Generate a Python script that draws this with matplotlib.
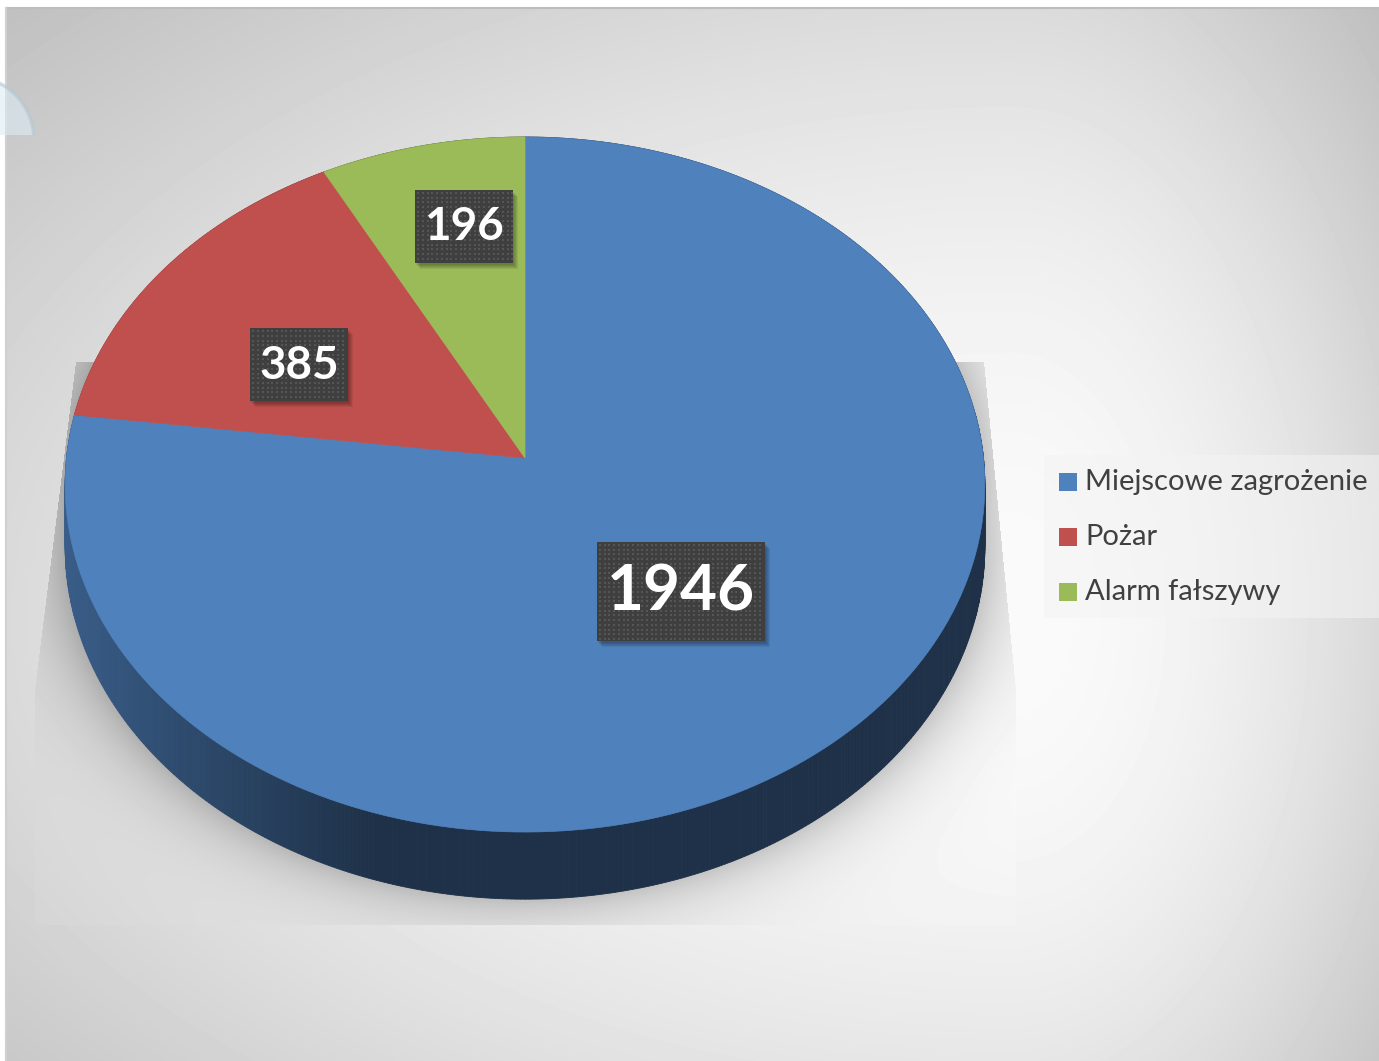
import numpy as np
import matplotlib
matplotlib.use("Agg")
import matplotlib.pyplot as plt
from matplotlib.patches import Polygon, Rectangle, Circle
from matplotlib.path import Path

# data
categories = ["Miejscowe zagrożenie", "Pożar", "Alarm fałszywy"]
values = [1946, 385, 196]
colors = ["#4f81bd", "#c0504d", "#9bbb59"]

# layout (pixels)
W, H = 1379, 1061
CX, CY = 525, 458          # apex of the slices on the top face
RX, RY = 458.5, 345.5
K = 0.0763                 # perspective strength
DEPTH = 62
label_frac = [0.5, 0.573, 0.72]
label_dang = [0.0, -5.9, 2.8]
label_size = [46, 33, 33]
box_w = [168, 98, 98]
box_h = [99, 73, 73]

fig = plt.figure(figsize=(W / 100, H / 100), dpi=100)
fig.patch.set_facecolor("white")
ax = fig.add_axes([0, 0, 1, 1])
ax.set_xlim(0, W)
ax.set_ylim(H, 0)
ax.axis("off")


def project(ang, frac=1.0, drop=0.0):
    """angle in degrees, clockwise from 12 o'clock -> screen pixels"""
    a = np.radians(ang)
    u = np.sin(a) * frac
    v = np.cos(a) * frac
    w = 1 + K * v
    return CX + RX * u / w, CY - RY * v / w + drop / w


# ---- background with floor shadow
x0, y0 = 6, 8
yy, xx = np.mgrid[y0:H, x0:W] + 0.5
dx = (xx - 1010) / np.where(xx < 1010, 1000, 360)
dy = (yy - 620) / np.where(yy < 620, 620, 560)
r = np.hypot(dx, dy)
bg = 250 - np.where(r < 1, 32 * r ** 2, 32 + 64 * (r - 1))

ex = (xx - 525) / 460
dyv = yy - 484.5
dyc = np.where(dyv < 0, dyv, np.maximum(dyv - 64, 0))
e = np.hypot(ex, dyc / 347)
d = np.maximum(e - 1, 0) * 420
shadow = 52 * np.exp(-d / 34)
trap = Path([(76, 362), (984, 362), (1016, 690), (1016, 925),
             (35, 925), (35, 690)])
inside = trap.contains_points(np.column_stack([xx.ravel(), yy.ravel()])).reshape(xx.shape)
img = np.where(inside, np.minimum(bg + 2, 250) - shadow, bg)
ax.imshow(img, cmap="gray", vmin=0, vmax=255, extent=[x0, W, H, y0],
          aspect="auto", interpolation="bilinear", zorder=0)
ax.plot([x0, W], [y0, y0], color="#bdbdbd", lw=1.5, zorder=1)
ax.plot([x0, x0], [y0, H], color="#d0d0d0", lw=1.5, zorder=1)

# ---- slice angles
total = sum(values)
spans = [v / total * 360 for v in values]
starts = np.concatenate([[0], np.cumsum(spans)[:-1]])

# ---- side wall, drawn back to front
segs = []
for start, span, col in zip(starts, spans, colors):
    angs = np.arange(start, start + span, 0.5)
    for a0 in angs:
        a1 = min(a0 + 0.5, start + span)
        segs.append((np.cos(np.radians((a0 + a1) / 2)), a0, a1, col))
segs.sort(key=lambda s: -s[0])
for v, a0, a1, col in segs:
    u = np.sin(np.radians((a0 + a1) / 2))
    t = np.clip((-u - 0.3) / 0.7, 0, 1)
    f = 0.38 + 0.35 * t
    rgb = np.array(matplotlib.colors.to_rgb(col)) * f
    pts = [project(a0), project(a1), project(a1, drop=DEPTH), project(a0, drop=DEPTH)]
    ax.add_patch(Polygon(pts, closed=True, facecolor=rgb, edgecolor=rgb,
                         lw=0.6, zorder=2))

# ---- top face
for start, span, col in zip(starts, spans, colors):
    arc = [project(a) for a in np.linspace(start, start + span, 200)]
    ax.add_patch(Polygon([(CX, CY)] + arc, closed=True, facecolor=col,
                         edgecolor=col, lw=0.5, zorder=3))

# ---- data labels
for start, span, val, fr, da, fs, bw, bh in zip(starts, spans, values, label_frac,
                                                 label_dang, label_size, box_w, box_h):
    lx, ly = project(start + span / 2 + da, frac=fr)
    bx, by = lx - bw / 2, ly - bh / 2
    for i in range(5):
        ax.add_patch(Rectangle((bx + 1 + i, by + 2 + i), bw, bh, facecolor="black",
                               alpha=0.07, lw=0, zorder=4))
    ax.add_patch(Rectangle((bx, by), bw, bh, facecolor="#3f3f3f", lw=0, zorder=5))
    gx, gy = np.meshgrid(np.arange(bx + 3, bx + bw - 1, 4.7),
                         np.arange(by + 3, by + bh - 1, 4.7))
    ax.scatter(gx.ravel(), gy.ravel(), marker="s", s=2.6, color="#555555",
               linewidths=0, zorder=6)
    ax.text(lx, ly + 1, str(val), ha="center", va="center", color="white",
            fontsize=fs, fontweight="bold", family=["Lato", "DejaVu Sans"], zorder=7)

# ---- legend
ax.add_patch(Rectangle((1044, 455), W - 1044, 163, facecolor="#f4f4f4",
                       alpha=0.55, lw=0, zorder=4))
for i, (cat, col) in enumerate(zip(categories, colors)):
    yc = 482 + i * 55
    ax.add_patch(Rectangle((1059, yc - 9), 18, 18, facecolor=col, lw=0, zorder=5))
    ax.text(1085, yc, cat, ha="left", va="center", color="#404040",
            fontsize=21, family=["Lato", "DejaVu Sans"], zorder=5)

# faint arc in the top-left corner
arc_patch = Circle((-30, 140), 64, facecolor="#dcecf4", edgecolor="#b4c7d1",
                   lw=2.5, alpha=0.6, zorder=8)
ax.add_patch(arc_patch)
clip = Rectangle((0, 0), 60, 135, transform=ax.transData)
arc_patch.set_clip_path(clip)

fig.savefig("out.png", dpi=100)
